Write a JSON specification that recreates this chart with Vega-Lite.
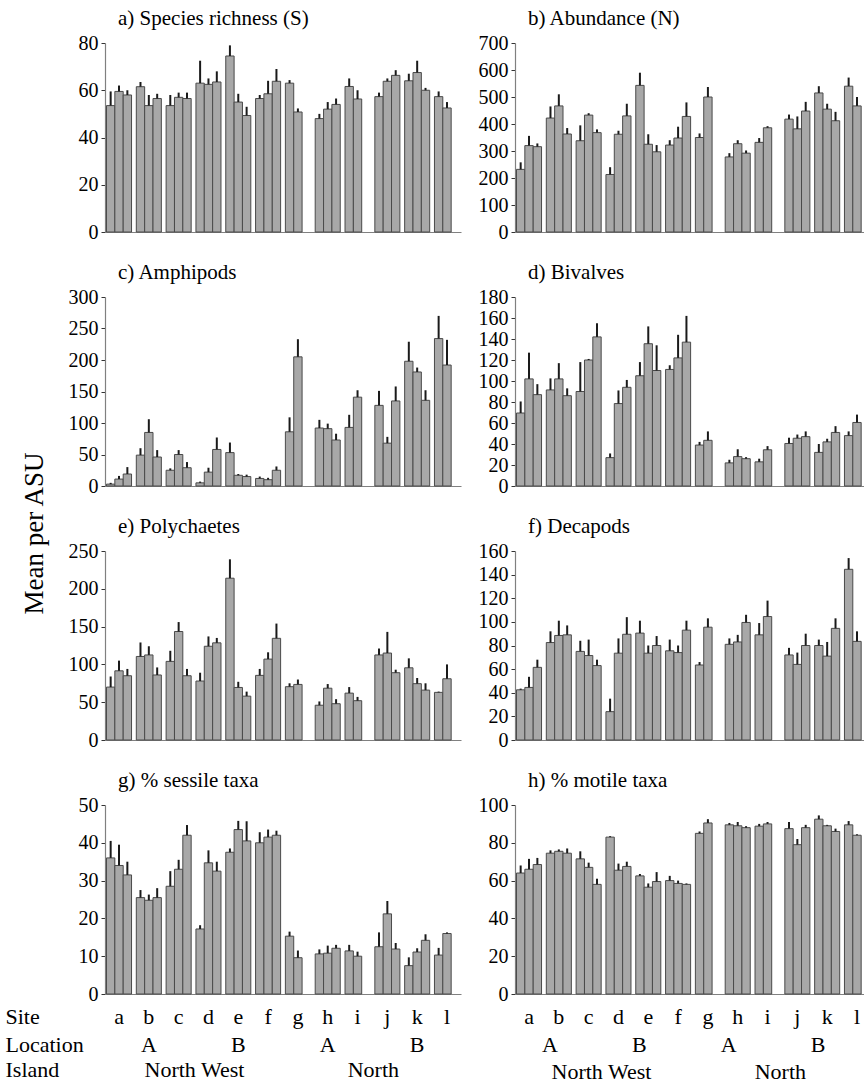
{
"$schema":"https://vega.github.io/schema/vega-lite/v6.json",
"padding":{"left":5,"top":8,"right":0,"bottom":0},
"datasets":{"d":[
{"v":"S","s":"a","t":1,"m":53.5,"hi":59.5},{"v":"S","s":"a","t":2,"m":59.5,"hi":62},{"v":"S","s":"a","t":3,"m":58,"hi":60},
{"v":"S","s":"b","t":1,"m":61.5,"hi":63.5},{"v":"S","s":"b","t":2,"m":53.5,"hi":58},{"v":"S","s":"b","t":3,"m":56.5,"hi":58.5},
{"v":"S","s":"c","t":1,"m":53.5,"hi":58},{"v":"S","s":"c","t":2,"m":57,"hi":59},{"v":"S","s":"c","t":3,"m":56.5,"hi":59},
{"v":"S","s":"d","t":1,"m":63,"hi":72.5},{"v":"S","s":"d","t":2,"m":62.5,"hi":65},{"v":"S","s":"d","t":3,"m":63.5,"hi":68},
{"v":"S","s":"e","t":1,"m":74.5,"hi":79},{"v":"S","s":"e","t":2,"m":55,"hi":58.5},{"v":"S","s":"e","t":3,"m":49.3,"hi":53},
{"v":"S","s":"f","t":1,"m":56.5,"hi":58},{"v":"S","s":"f","t":2,"m":58.5,"hi":64},{"v":"S","s":"f","t":3,"m":63.8,"hi":69},
{"v":"S","s":"g","t":1,"m":63,"hi":64.3},{"v":"S","s":"g","t":2,"m":50.8,"hi":52.3},
{"v":"S","s":"h","t":1,"m":48,"hi":50},{"v":"S","s":"h","t":2,"m":52,"hi":55},{"v":"S","s":"h","t":3,"m":54,"hi":56.5},
{"v":"S","s":"i","t":1,"m":61.6,"hi":65},{"v":"S","s":"i","t":2,"m":56.3,"hi":60},
{"v":"S","s":"j","t":1,"m":57.3,"hi":59},{"v":"S","s":"j","t":2,"m":63.8,"hi":65},{"v":"S","s":"j","t":3,"m":66.3,"hi":68.5},
{"v":"S","s":"k","t":1,"m":64,"hi":67},{"v":"S","s":"k","t":2,"m":67.5,"hi":72.5},{"v":"S","s":"k","t":3,"m":60,"hi":61},
{"v":"S","s":"l","t":1,"m":57.3,"hi":59.5},{"v":"S","s":"l","t":2,"m":52.5,"hi":55},
{"v":"N","s":"a","t":1,"m":232,"hi":258},{"v":"N","s":"a","t":2,"m":320,"hi":356},{"v":"N","s":"a","t":3,"m":316,"hi":328},
{"v":"N","s":"b","t":1,"m":422,"hi":465},{"v":"N","s":"b","t":2,"m":467,"hi":510},{"v":"N","s":"b","t":3,"m":363,"hi":385},
{"v":"N","s":"c","t":1,"m":338,"hi":395},{"v":"N","s":"c","t":2,"m":433,"hi":440},{"v":"N","s":"c","t":3,"m":368,"hi":380},
{"v":"N","s":"d","t":1,"m":213,"hi":240},{"v":"N","s":"d","t":2,"m":362,"hi":375},{"v":"N","s":"d","t":3,"m":430,"hi":475},
{"v":"N","s":"e","t":1,"m":543,"hi":590},{"v":"N","s":"e","t":2,"m":325,"hi":362},{"v":"N","s":"e","t":3,"m":297,"hi":322},
{"v":"N","s":"f","t":1,"m":322,"hi":340},{"v":"N","s":"f","t":2,"m":348,"hi":390},{"v":"N","s":"f","t":3,"m":428,"hi":480},
{"v":"N","s":"g","t":1,"m":350,"hi":365},{"v":"N","s":"g","t":2,"m":500,"hi":537},
{"v":"N","s":"h","t":1,"m":278,"hi":292},{"v":"N","s":"h","t":2,"m":327,"hi":340},{"v":"N","s":"h","t":3,"m":292,"hi":302},
{"v":"N","s":"i","t":1,"m":332,"hi":348},{"v":"N","s":"i","t":2,"m":386,"hi":392},
{"v":"N","s":"j","t":1,"m":418,"hi":435},{"v":"N","s":"j","t":2,"m":382,"hi":428},{"v":"N","s":"j","t":3,"m":448,"hi":482},
{"v":"N","s":"k","t":1,"m":515,"hi":540},{"v":"N","s":"k","t":2,"m":455,"hi":475},{"v":"N","s":"k","t":3,"m":412,"hi":445},
{"v":"N","s":"l","t":1,"m":540,"hi":572},{"v":"N","s":"l","t":2,"m":467,"hi":500},
{"v":"A","s":"a","t":1,"m":3,"hi":5},{"v":"A","s":"a","t":2,"m":11,"hi":16},{"v":"A","s":"a","t":3,"m":19,"hi":30},
{"v":"A","s":"b","t":1,"m":49,"hi":60},{"v":"A","s":"b","t":2,"m":85,"hi":106},{"v":"A","s":"b","t":3,"m":46,"hi":57},
{"v":"A","s":"c","t":1,"m":25,"hi":28},{"v":"A","s":"c","t":2,"m":50,"hi":57},{"v":"A","s":"c","t":3,"m":29,"hi":38},
{"v":"A","s":"d","t":1,"m":5,"hi":7},{"v":"A","s":"d","t":2,"m":22,"hi":29},{"v":"A","s":"d","t":3,"m":58,"hi":77},
{"v":"A","s":"e","t":1,"m":53,"hi":69},{"v":"A","s":"e","t":2,"m":17,"hi":19},{"v":"A","s":"e","t":3,"m":15,"hi":18},
{"v":"A","s":"f","t":1,"m":12,"hi":15},{"v":"A","s":"f","t":2,"m":10,"hi":13},{"v":"A","s":"f","t":3,"m":25,"hi":31},
{"v":"A","s":"g","t":1,"m":86,"hi":109},{"v":"A","s":"g","t":2,"m":205,"hi":233},
{"v":"A","s":"h","t":1,"m":92,"hi":105},{"v":"A","s":"h","t":2,"m":91,"hi":99},{"v":"A","s":"h","t":3,"m":73,"hi":83},
{"v":"A","s":"i","t":1,"m":93,"hi":113},{"v":"A","s":"i","t":2,"m":141,"hi":152},
{"v":"A","s":"j","t":1,"m":128,"hi":151},{"v":"A","s":"j","t":2,"m":68,"hi":78},{"v":"A","s":"j","t":3,"m":135,"hi":158},
{"v":"A","s":"k","t":1,"m":198,"hi":229},{"v":"A","s":"k","t":2,"m":181,"hi":188},{"v":"A","s":"k","t":3,"m":136,"hi":152},
{"v":"A","s":"l","t":1,"m":234,"hi":270},{"v":"A","s":"l","t":2,"m":192,"hi":232},
{"v":"B","s":"a","t":1,"m":69.5,"hi":80.5},{"v":"B","s":"a","t":2,"m":102,"hi":127},{"v":"B","s":"a","t":3,"m":87,"hi":97},
{"v":"B","s":"b","t":1,"m":91.5,"hi":102.5},{"v":"B","s":"b","t":2,"m":102,"hi":117},{"v":"B","s":"b","t":3,"m":86,"hi":93},
{"v":"B","s":"c","t":1,"m":90,"hi":118},{"v":"B","s":"c","t":2,"m":120,"hi":121},{"v":"B","s":"c","t":3,"m":142,"hi":155},
{"v":"B","s":"d","t":1,"m":27,"hi":31},{"v":"B","s":"d","t":2,"m":78.5,"hi":91},{"v":"B","s":"d","t":3,"m":94,"hi":101},
{"v":"B","s":"e","t":1,"m":105,"hi":118},{"v":"B","s":"e","t":2,"m":135.5,"hi":152},{"v":"B","s":"e","t":3,"m":110,"hi":134},
{"v":"B","s":"f","t":1,"m":111,"hi":115},{"v":"B","s":"f","t":2,"m":122,"hi":144},{"v":"B","s":"f","t":3,"m":137,"hi":162},
{"v":"B","s":"g","t":1,"m":39,"hi":42},{"v":"B","s":"g","t":2,"m":43.5,"hi":52},
{"v":"B","s":"h","t":1,"m":22,"hi":25},{"v":"B","s":"h","t":2,"m":28,"hi":35},{"v":"B","s":"h","t":3,"m":26,"hi":27.5},
{"v":"B","s":"i","t":1,"m":23,"hi":26},{"v":"B","s":"i","t":2,"m":34.5,"hi":38},
{"v":"B","s":"j","t":1,"m":40.5,"hi":46},{"v":"B","s":"j","t":2,"m":45.5,"hi":49},{"v":"B","s":"j","t":3,"m":47,"hi":52},
{"v":"B","s":"k","t":1,"m":32,"hi":40},{"v":"B","s":"k","t":2,"m":42,"hi":45},{"v":"B","s":"k","t":3,"m":51,"hi":57},
{"v":"B","s":"l","t":1,"m":48,"hi":52},{"v":"B","s":"l","t":2,"m":60.5,"hi":68},
{"v":"P","s":"a","t":1,"m":70,"hi":84},{"v":"P","s":"a","t":2,"m":91.5,"hi":105},{"v":"P","s":"a","t":3,"m":85,"hi":94},
{"v":"P","s":"b","t":1,"m":110.5,"hi":129},{"v":"P","s":"b","t":2,"m":112.5,"hi":124},{"v":"P","s":"b","t":3,"m":86,"hi":96},
{"v":"P","s":"c","t":1,"m":104,"hi":118},{"v":"P","s":"c","t":2,"m":143.5,"hi":156},{"v":"P","s":"c","t":3,"m":85,"hi":94},
{"v":"P","s":"d","t":1,"m":78,"hi":89},{"v":"P","s":"d","t":2,"m":124,"hi":137},{"v":"P","s":"d","t":3,"m":128.5,"hi":135},
{"v":"P","s":"e","t":1,"m":214,"hi":239},{"v":"P","s":"e","t":2,"m":69.5,"hi":77},{"v":"P","s":"e","t":3,"m":58,"hi":64},
{"v":"P","s":"f","t":1,"m":85.5,"hi":94},{"v":"P","s":"f","t":2,"m":107,"hi":116},{"v":"P","s":"f","t":3,"m":134.5,"hi":154},
{"v":"P","s":"g","t":1,"m":70.5,"hi":75},{"v":"P","s":"g","t":2,"m":73.5,"hi":80},
{"v":"P","s":"h","t":1,"m":46,"hi":51},{"v":"P","s":"h","t":2,"m":68.5,"hi":74},{"v":"P","s":"h","t":3,"m":48,"hi":54},
{"v":"P","s":"i","t":1,"m":62,"hi":70},{"v":"P","s":"i","t":2,"m":52,"hi":57},
{"v":"P","s":"j","t":1,"m":112.5,"hi":121},{"v":"P","s":"j","t":2,"m":115,"hi":143},{"v":"P","s":"j","t":3,"m":89,"hi":93},
{"v":"P","s":"k","t":1,"m":95.5,"hi":108},{"v":"P","s":"k","t":2,"m":74.5,"hi":82},{"v":"P","s":"k","t":3,"m":66,"hi":75},
{"v":"P","s":"l","t":1,"m":63,"hi":64},{"v":"P","s":"l","t":2,"m":81,"hi":100},
{"v":"D","s":"a","t":1,"m":42.5,"hi":43.5},{"v":"D","s":"a","t":2,"m":44.5,"hi":53.5},{"v":"D","s":"a","t":3,"m":61.5,"hi":68},
{"v":"D","s":"b","t":1,"m":82.5,"hi":92},{"v":"D","s":"b","t":2,"m":88.5,"hi":101},{"v":"D","s":"b","t":3,"m":89,"hi":97},
{"v":"D","s":"c","t":1,"m":75,"hi":84},{"v":"D","s":"c","t":2,"m":71.5,"hi":85},{"v":"D","s":"c","t":3,"m":63,"hi":68},
{"v":"D","s":"d","t":1,"m":24,"hi":35},{"v":"D","s":"d","t":2,"m":73.5,"hi":86},{"v":"D","s":"d","t":3,"m":89.5,"hi":104},
{"v":"D","s":"e","t":1,"m":90.5,"hi":101},{"v":"D","s":"e","t":2,"m":73.5,"hi":80},{"v":"D","s":"e","t":3,"m":80,"hi":88},
{"v":"D","s":"f","t":1,"m":75.5,"hi":85},{"v":"D","s":"f","t":2,"m":74,"hi":80},{"v":"D","s":"f","t":3,"m":93,"hi":101},
{"v":"D","s":"g","t":1,"m":63.5,"hi":66},{"v":"D","s":"g","t":2,"m":95.5,"hi":103},
{"v":"D","s":"h","t":1,"m":81,"hi":86},{"v":"D","s":"h","t":2,"m":83,"hi":89},{"v":"D","s":"h","t":3,"m":99.5,"hi":106},
{"v":"D","s":"i","t":1,"m":89,"hi":99},{"v":"D","s":"i","t":2,"m":104.5,"hi":118},
{"v":"D","s":"j","t":1,"m":72,"hi":78},{"v":"D","s":"j","t":2,"m":64,"hi":74},{"v":"D","s":"j","t":3,"m":80,"hi":90},
{"v":"D","s":"k","t":1,"m":80,"hi":85},{"v":"D","s":"k","t":2,"m":71,"hi":83},{"v":"D","s":"k","t":3,"m":94.5,"hi":103},
{"v":"D","s":"l","t":1,"m":144.5,"hi":154},{"v":"D","s":"l","t":2,"m":83.5,"hi":92},
{"v":"G","s":"a","t":1,"m":36,"hi":40.5},{"v":"G","s":"a","t":2,"m":34,"hi":39.5},{"v":"G","s":"a","t":3,"m":31.5,"hi":35},
{"v":"G","s":"b","t":1,"m":25.5,"hi":27.5},{"v":"G","s":"b","t":2,"m":24.8,"hi":26.3},{"v":"G","s":"b","t":3,"m":25.5,"hi":28},
{"v":"G","s":"c","t":1,"m":28.5,"hi":32.5},{"v":"G","s":"c","t":2,"m":33,"hi":35.5},{"v":"G","s":"c","t":3,"m":42,"hi":44.7},
{"v":"G","s":"d","t":1,"m":17.2,"hi":18.2},{"v":"G","s":"d","t":2,"m":34.7,"hi":38},{"v":"G","s":"d","t":3,"m":32.5,"hi":35},
{"v":"G","s":"e","t":1,"m":37.5,"hi":38.5},{"v":"G","s":"e","t":2,"m":43.5,"hi":45.8},{"v":"G","s":"e","t":3,"m":40.5,"hi":45.7},
{"v":"G","s":"f","t":1,"m":40,"hi":42.8},{"v":"G","s":"f","t":2,"m":41.5,"hi":43.5},{"v":"G","s":"f","t":3,"m":42,"hi":43.2},
{"v":"G","s":"g","t":1,"m":15.3,"hi":16.5},{"v":"G","s":"g","t":2,"m":9.6,"hi":11.5},
{"v":"G","s":"h","t":1,"m":10.6,"hi":11.8},{"v":"G","s":"h","t":2,"m":10.8,"hi":12.8},{"v":"G","s":"h","t":3,"m":12.1,"hi":13},
{"v":"G","s":"i","t":1,"m":11.4,"hi":13},{"v":"G","s":"i","t":2,"m":10,"hi":11.2},
{"v":"G","s":"j","t":1,"m":12.5,"hi":16.3},{"v":"G","s":"j","t":2,"m":21.2,"hi":24.6},{"v":"G","s":"j","t":3,"m":11.9,"hi":13.5},
{"v":"G","s":"k","t":1,"m":7.5,"hi":9.7},{"v":"G","s":"k","t":2,"m":11.1,"hi":12.1},{"v":"G","s":"k","t":3,"m":14.2,"hi":15.8},
{"v":"G","s":"l","t":1,"m":10.3,"hi":12.2},{"v":"G","s":"l","t":2,"m":16,"hi":16.3},
{"v":"M","s":"a","t":1,"m":64,"hi":68},{"v":"M","s":"a","t":2,"m":66,"hi":71.5},{"v":"M","s":"a","t":3,"m":68.5,"hi":72},
{"v":"M","s":"b","t":1,"m":74.5,"hi":76},{"v":"M","s":"b","t":2,"m":75.5,"hi":76.5},{"v":"M","s":"b","t":3,"m":74.5,"hi":77},
{"v":"M","s":"c","t":1,"m":71.5,"hi":75.5},{"v":"M","s":"c","t":2,"m":67,"hi":69.5},{"v":"M","s":"c","t":3,"m":58,"hi":61},
{"v":"M","s":"d","t":1,"m":83,"hi":83.5},{"v":"M","s":"d","t":2,"m":65.5,"hi":69},{"v":"M","s":"d","t":3,"m":67.5,"hi":70},
{"v":"M","s":"e","t":1,"m":62.5,"hi":63.5},{"v":"M","s":"e","t":2,"m":56.5,"hi":58.5},{"v":"M","s":"e","t":3,"m":59.5,"hi":64.5},
{"v":"M","s":"f","t":1,"m":60,"hi":62.5},{"v":"M","s":"f","t":2,"m":58.5,"hi":60},{"v":"M","s":"f","t":3,"m":58,"hi":58.5},
{"v":"M","s":"g","t":1,"m":85,"hi":86},{"v":"M","s":"g","t":2,"m":90.5,"hi":92.5},
{"v":"M","s":"h","t":1,"m":89.5,"hi":90.5},{"v":"M","s":"h","t":2,"m":89,"hi":91},{"v":"M","s":"h","t":3,"m":88,"hi":88.8},
{"v":"M","s":"i","t":1,"m":88.8,"hi":90},{"v":"M","s":"i","t":2,"m":90,"hi":91},
{"v":"M","s":"j","t":1,"m":87.5,"hi":91},{"v":"M","s":"j","t":2,"m":79,"hi":82},{"v":"M","s":"j","t":3,"m":88,"hi":89.5},
{"v":"M","s":"k","t":1,"m":92.5,"hi":94.5},{"v":"M","s":"k","t":2,"m":89,"hi":89.5},{"v":"M","s":"k","t":3,"m":86,"hi":87.5},
{"v":"M","s":"l","t":1,"m":89.5,"hi":91.5},{"v":"M","s":"l","t":2,"m":84,"hi":84.5}
]},
"data":{"name":"d"},
"columns":2,
"bounds":"flush",
"spacing":{"row":65,"column":54},
"concat":[
{"width":356,"height":189,"title":{"text":"a) Species richness (S)","font":"Liberation Serif","fontSize":21,"fontWeight":"normal","color":"#000","anchor":"start","frame":"group","dx":13,"offset":4},"transform":[{"filter":"datum.v=='S'"}],
 "encoding":{"x":{"field":"s","type":"nominal","scale":{"domain":["a","b","c","d","e","f","g","h","i","j","k","l"],"paddingInner":0.16,"paddingOuter":0.05},"axis":{"title":null,"labels":false,"ticks":false,"tickSize":0,"domainColor":"#808080","domainWidth":1.2}},
  "xOffset":{"field":"t","type":"ordinal","scale":{"domain":[1,2,3],"paddingInner":0,"paddingOuter":0}},
  "y":{"field":"m","type":"quantitative","scale":{"domain":[0,80],"nice":false},"axis":{"title":null,"values":[0,20,40,60,80],"labelOverlap":false,"labelFont":"Liberation Serif","labelFontSize":20,"labelColor":"#000","labelPadding":3,"grid":false,"domainColor":"#808080","domainWidth":1.2,"tickColor":"#333","tickSize":4}}},
 "layer":[{"mark":{"type":"bar","fill":"#A8A8A8","stroke":"#4a4a4a","strokeWidth":1}},{"mark":{"type":"rule","color":"#1a1a1a","strokeWidth":2},"encoding":{"y2":{"field":"hi"}}}]},
{"width":356,"height":189,"title":{"text":"b) Abundance (N)","font":"Liberation Serif","fontSize":21,"fontWeight":"normal","color":"#000","anchor":"start","frame":"group","dx":13,"offset":4},"transform":[{"filter":"datum.v=='N'"}],
 "encoding":{"x":{"field":"s","type":"nominal","scale":{"domain":["a","b","c","d","e","f","g","h","i","j","k","l"],"paddingInner":0.16,"paddingOuter":0.05},"axis":{"title":null,"labels":false,"ticks":false,"tickSize":0,"domainColor":"#808080","domainWidth":1.2}},
  "xOffset":{"field":"t","type":"ordinal","scale":{"domain":[1,2,3],"paddingInner":0,"paddingOuter":0}},
  "y":{"field":"m","type":"quantitative","scale":{"domain":[0,700],"nice":false},"axis":{"title":null,"values":[0,100,200,300,400,500,600,700],"labelOverlap":false,"labelFont":"Liberation Serif","labelFontSize":20,"labelColor":"#000","labelPadding":3,"grid":false,"domainColor":"#808080","domainWidth":1.2,"tickColor":"#333","tickSize":4}}},
 "layer":[{"mark":{"type":"bar","fill":"#A8A8A8","stroke":"#4a4a4a","strokeWidth":1}},{"mark":{"type":"rule","color":"#1a1a1a","strokeWidth":2},"encoding":{"y2":{"field":"hi"}}}]},
{"width":356,"height":189,"title":{"text":"c) Amphipods","font":"Liberation Serif","fontSize":21,"fontWeight":"normal","color":"#000","anchor":"start","frame":"group","dx":13,"offset":4},"transform":[{"filter":"datum.v=='A'"}],
 "encoding":{"x":{"field":"s","type":"nominal","scale":{"domain":["a","b","c","d","e","f","g","h","i","j","k","l"],"paddingInner":0.16,"paddingOuter":0.05},"axis":{"title":null,"labels":false,"ticks":false,"tickSize":0,"domainColor":"#808080","domainWidth":1.2}},
  "xOffset":{"field":"t","type":"ordinal","scale":{"domain":[1,2,3],"paddingInner":0,"paddingOuter":0}},
  "y":{"field":"m","type":"quantitative","scale":{"domain":[0,300],"nice":false},"axis":{"title":"Mean per ASU","values":[0,50,100,150,200,250,300],"labelOverlap":false,"labelFont":"Liberation Serif","labelFontSize":20,"labelColor":"#000","labelPadding":3,"grid":false,"domainColor":"#808080","domainWidth":1.2,"tickColor":"#333","tickSize":4,"titleFont":"Liberation Serif","titleFontWeight":"normal","titleColor":"#000","titleFontSize":27,"titleX":-71,"titleY":236,"titleAngle":-90,"titleAlign":"center","titleBaseline":"middle"}}},
 "layer":[{"mark":{"type":"bar","fill":"#A8A8A8","stroke":"#4a4a4a","strokeWidth":1}},{"mark":{"type":"rule","color":"#1a1a1a","strokeWidth":2},"encoding":{"y2":{"field":"hi"}}}]},
{"width":356,"height":189,"title":{"text":"d) Bivalves","font":"Liberation Serif","fontSize":21,"fontWeight":"normal","color":"#000","anchor":"start","frame":"group","dx":13,"offset":4},"transform":[{"filter":"datum.v=='B'"}],
 "encoding":{"x":{"field":"s","type":"nominal","scale":{"domain":["a","b","c","d","e","f","g","h","i","j","k","l"],"paddingInner":0.16,"paddingOuter":0.05},"axis":{"title":null,"labels":false,"ticks":false,"tickSize":0,"domainColor":"#808080","domainWidth":1.2}},
  "xOffset":{"field":"t","type":"ordinal","scale":{"domain":[1,2,3],"paddingInner":0,"paddingOuter":0}},
  "y":{"field":"m","type":"quantitative","scale":{"domain":[0,180],"nice":false},"axis":{"title":null,"values":[0,20,40,60,80,100,120,140,160,180],"labelOverlap":false,"labelFont":"Liberation Serif","labelFontSize":20,"labelColor":"#000","labelPadding":3,"grid":false,"domainColor":"#808080","domainWidth":1.2,"tickColor":"#333","tickSize":4}}},
 "layer":[{"mark":{"type":"bar","fill":"#A8A8A8","stroke":"#4a4a4a","strokeWidth":1}},{"mark":{"type":"rule","color":"#1a1a1a","strokeWidth":2},"encoding":{"y2":{"field":"hi"}}}]},
{"width":356,"height":189,"title":{"text":"e) Polychaetes","font":"Liberation Serif","fontSize":21,"fontWeight":"normal","color":"#000","anchor":"start","frame":"group","dx":13,"offset":4},"transform":[{"filter":"datum.v=='P'"}],
 "encoding":{"x":{"field":"s","type":"nominal","scale":{"domain":["a","b","c","d","e","f","g","h","i","j","k","l"],"paddingInner":0.16,"paddingOuter":0.05},"axis":{"title":null,"labels":false,"ticks":false,"tickSize":0,"domainColor":"#808080","domainWidth":1.2}},
  "xOffset":{"field":"t","type":"ordinal","scale":{"domain":[1,2,3],"paddingInner":0,"paddingOuter":0}},
  "y":{"field":"m","type":"quantitative","scale":{"domain":[0,250],"nice":false},"axis":{"title":null,"values":[0,50,100,150,200,250],"labelOverlap":false,"labelFont":"Liberation Serif","labelFontSize":20,"labelColor":"#000","labelPadding":3,"grid":false,"domainColor":"#808080","domainWidth":1.2,"tickColor":"#333","tickSize":4}}},
 "layer":[{"mark":{"type":"bar","fill":"#A8A8A8","stroke":"#4a4a4a","strokeWidth":1}},{"mark":{"type":"rule","color":"#1a1a1a","strokeWidth":2},"encoding":{"y2":{"field":"hi"}}}]},
{"width":356,"height":189,"title":{"text":"f) Decapods","font":"Liberation Serif","fontSize":21,"fontWeight":"normal","color":"#000","anchor":"start","frame":"group","dx":13,"offset":4},"transform":[{"filter":"datum.v=='D'"}],
 "encoding":{"x":{"field":"s","type":"nominal","scale":{"domain":["a","b","c","d","e","f","g","h","i","j","k","l"],"paddingInner":0.16,"paddingOuter":0.05},"axis":{"title":null,"labels":false,"ticks":false,"tickSize":0,"domainColor":"#808080","domainWidth":1.2}},
  "xOffset":{"field":"t","type":"ordinal","scale":{"domain":[1,2,3],"paddingInner":0,"paddingOuter":0}},
  "y":{"field":"m","type":"quantitative","scale":{"domain":[0,160],"nice":false},"axis":{"title":null,"values":[0,20,40,60,80,100,120,140,160],"labelOverlap":false,"labelFont":"Liberation Serif","labelFontSize":20,"labelColor":"#000","labelPadding":3,"grid":false,"domainColor":"#808080","domainWidth":1.2,"tickColor":"#333","tickSize":4}}},
 "layer":[{"mark":{"type":"bar","fill":"#A8A8A8","stroke":"#4a4a4a","strokeWidth":1}},{"mark":{"type":"rule","color":"#1a1a1a","strokeWidth":2},"encoding":{"y2":{"field":"hi"}}}]},
{"width":356,"height":189,"title":{"text":"g) % sessile taxa","font":"Liberation Serif","fontSize":21,"fontWeight":"normal","color":"#000","anchor":"start","frame":"group","dx":13,"offset":4},"transform":[{"filter":"datum.v=='G'"}],
 "encoding":{"xOffset":{"field":"t","type":"ordinal","scale":{"domain":[1,2,3],"paddingInner":0,"paddingOuter":0}},
  "y":{"field":"m","type":"quantitative","scale":{"domain":[0,50],"nice":false},"axis":{"title":null,"values":[0,10,20,30,40,50],"labelOverlap":false,"labelFont":"Liberation Serif","labelFontSize":20,"labelColor":"#000","labelPadding":3,"grid":false,"domainColor":"#808080","domainWidth":1.2,"tickColor":"#333","tickSize":4}}},
 "layer":[
  {"mark":{"type":"bar","fill":"#A8A8A8","stroke":"#4a4a4a","strokeWidth":1},"encoding":{
    "x":{"field":"s","type":"nominal","scale":{"domain":["a","b","c","d","e","f","g","h","i","j","k","l"],"paddingInner":0.16,"paddingOuter":0.05},"axis":{"orient":"bottom","title":"Site","labelAngle":0,"labelFont":"Liberation Serif","labelColor":"#000","labelFontSize":22,"labelPadding":22,"labelBaseline":"middle","ticks":false,"tickSize":0,"domainColor":"#808080","domainWidth":1.2,"titleFont":"Liberation Serif","titleFontWeight":"normal","titleColor":"#000","titleX":-100,"titleY":22,"titleAlign":"left","titleBaseline":"middle","titleAngle":0,"titleFontSize":22}}}},
  {"mark":{"type":"rule","color":"#1a1a1a","strokeWidth":2},"encoding":{
    "x":{"field":"s","type":"nominal","axis":{"orient":"bottom","title":"Location","domain":false,"labelAngle":0,"labelFont":"Liberation Serif","labelColor":"#000","labelFontSize":22,"labelPadding":50,"labelBaseline":"middle","ticks":false,"tickSize":0,"labelExpr":"datum.value=='b'||datum.value=='h' ? 'A' : (datum.value=='e'||datum.value=='k' ? 'B' : '')","titleFont":"Liberation Serif","titleFontWeight":"normal","titleColor":"#000","titleX":-100,"titleY":50,"titleAlign":"left","titleBaseline":"middle","titleAngle":0,"titleFontSize":22}},
    "y2":{"field":"hi"}}},
  {"mark":{"type":"rule","opacity":0},"encoding":{
    "x":{"field":"s","type":"nominal","axis":{"orient":"bottom","title":"Island","domain":false,"labelAngle":0,"labelFont":"Liberation Serif","labelColor":"#000","labelFontSize":22,"labelPadding":75,"labelBaseline":"middle","labelOffset":-14,"ticks":false,"tickSize":0,"labelExpr":"datum.value=='d' ? 'North West' : (datum.value=='j' ? 'North' : '')","titleFont":"Liberation Serif","titleFontWeight":"normal","titleColor":"#000","titleX":-100,"titleY":75,"titleAlign":"left","titleBaseline":"middle","titleAngle":0,"titleFontSize":22}},
    "y2":{"field":"hi"}}}
 ],
 "resolve":{"axis":{"x":"independent"}}},
{"width":356,"height":189,"title":{"text":"h) % motile taxa","font":"Liberation Serif","fontSize":21,"fontWeight":"normal","color":"#000","anchor":"start","frame":"group","dx":13,"offset":4},"transform":[{"filter":"datum.v=='M'"}],
 "encoding":{"xOffset":{"field":"t","type":"ordinal","scale":{"domain":[1,2,3],"paddingInner":0,"paddingOuter":0}},
  "y":{"field":"m","type":"quantitative","scale":{"domain":[0,100],"nice":false},"axis":{"title":null,"values":[0,20,40,60,80,100],"labelOverlap":false,"labelFont":"Liberation Serif","labelFontSize":20,"labelColor":"#000","labelPadding":3,"grid":false,"domainColor":"#808080","domainWidth":1.2,"tickColor":"#333","tickSize":4}}},
 "layer":[
  {"mark":{"type":"bar","fill":"#A8A8A8","stroke":"#4a4a4a","strokeWidth":1},"encoding":{
    "x":{"field":"s","type":"nominal","scale":{"domain":["a","b","c","d","e","f","g","h","i","j","k","l"],"paddingInner":0.16,"paddingOuter":0.05},"axis":{"orient":"bottom","title":null,"labelAngle":0,"labelFont":"Liberation Serif","labelColor":"#000","labelFontSize":22,"labelPadding":22,"labelBaseline":"middle","ticks":false,"tickSize":0,"domainColor":"#808080","domainWidth":1.2}}}},
  {"mark":{"type":"rule","color":"#1a1a1a","strokeWidth":2},"encoding":{
    "x":{"field":"s","type":"nominal","axis":{"orient":"bottom","title":null,"domain":false,"labelAngle":0,"labelFont":"Liberation Serif","labelColor":"#000","labelFontSize":22,"labelPadding":50,"labelBaseline":"middle","labelOffset":-9,"ticks":false,"tickSize":0,"labelExpr":"datum.value=='b'||datum.value=='h' ? 'A' : (datum.value=='e'||datum.value=='k' ? 'B' : '')"}},
    "y2":{"field":"hi"}}},
  {"mark":{"type":"rule","opacity":0},"encoding":{
    "x":{"field":"s","type":"nominal","axis":{"orient":"bottom","title":null,"domain":false,"labelAngle":0,"labelFont":"Liberation Serif","labelColor":"#000","labelFontSize":22,"labelPadding":77,"labelBaseline":"middle","labelOffset":-17,"ticks":false,"tickSize":0,"labelExpr":"datum.value=='d' ? 'North West' : (datum.value=='j' ? 'North' : '')"}},
    "y2":{"field":"hi"}}}
 ],
 "resolve":{"axis":{"x":"independent"}}}
],
"config":{
 "view":{"stroke":null},
 "axis":{"labelOverlap":false,"grid":false}
}
}
